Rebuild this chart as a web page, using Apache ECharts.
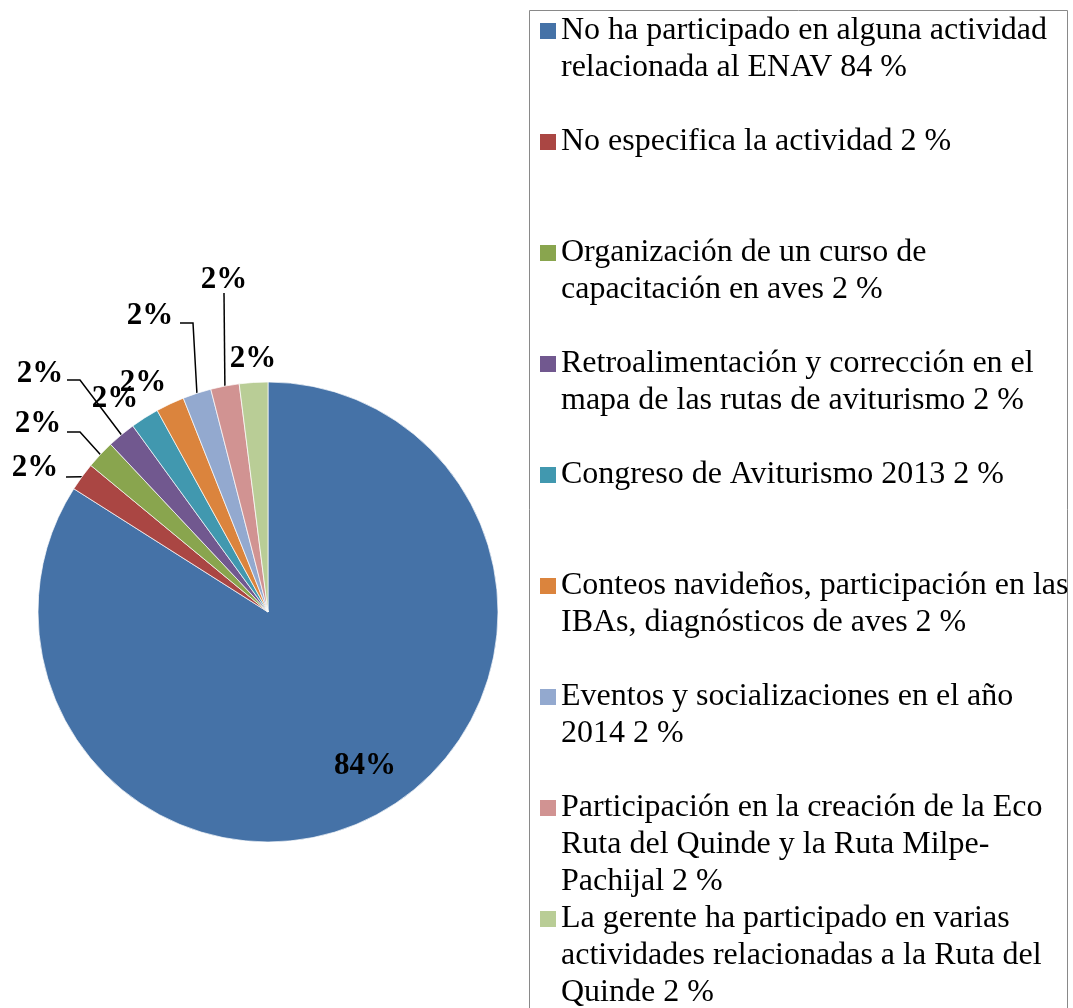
<!DOCTYPE html>
<html>
<head>
<meta charset="utf-8">
<script src="https://cdn.jsdelivr.net/npm/echarts@6/dist/echarts.min.js"></script>
<style>
  html, body { margin: 0; padding: 0; background: #fff; }
  #chart { width: 1073px; height: 1008px; }
</style>
</head>
<body>
<div id="chart"></div>
<script>
// categorias (saltos de linea como en la leyenda original)
var categories = [
  'No ha participado en alguna actividad\nrelacionada al ENAV',
  'No especifica la actividad',
  'Organización de un curso de\ncapacitación en aves',
  'Retroalimentación y corrección en el\nmapa de las rutas de aviturismo',
  'Congreso de Aviturismo 2013',
  'Conteos navideños, participación en las\nIBAs, diagnósticos de aves',
  'Eventos y socializaciones en el año\n2014',
  'Participación en la creación de la Eco\nRuta del Quinde y la Ruta Milpe-\nPachijal',
  'La gerente ha participado en varias\nactividades relacionadas a la Ruta del\nQuinde'
]
var values = [84, 2, 2, 2, 2, 2, 2, 2, 2]
var colors = ['#4572A7', '#AA4643', '#89A54E', '#71588F', '#4198AF', '#DB843D', '#93A9CF', '#D19392', '#B9CD96']

var chart = echarts.init(document.getElementById('chart'))
var serif = '"Liberation Serif", "Times New Roman", serif'
var LH = 37 // alto de linea de la leyenda

// posicion de las etiquetas (centro del texto) y codo de la linea guia
var labelSpots = [
  { x: 365, y: 766 },
  { x: 35, y: 468, elbow: [[66, 477]] },
  { x: 38, y: 424, elbow: [[80, 432], [67, 432]] },
  { x: 40, y: 374, elbow: [[80, 380], [67, 380]] },
  { x: 115, y: 399 },
  { x: 143, y: 383 },
  { x: 150, y: 316, elbow: [[193, 323], [180, 323]] },
  { x: 224, y: 280, elbow: [[224, 293]] },
  { x: 253, y: 359 }
]

// una leyenda por item; lineas vacias arriba para que el cuadro quede en la primera linea
var legends = categories.map(function (name, i) {
  var n = name.split('\n').length
  var center = 31 + i * 111
  return {
    orient: 'vertical',
    left: 540,
    top: center - (n - 1) * LH - LH / 2,
    padding: 0,
    itemGap: 0,
    itemWidth: 16,
    itemHeight: 16,
    icon: 'rect',
    itemStyle: { borderWidth: 0 },
    selectedMode: false,
    data: [name],
    formatter: function (nm) {
      var k = nm.split('\n').length - 1
      return new Array(k + 1).join('\n') + nm + ' ' + values[categories.indexOf(nm)] + ' %'
    },
    textStyle: {
      fontFamily: serif,
      fontSize: 32,
      lineHeight: LH,
      color: '#000'
    }
  }
})

var option = {
  animation: false,
  backgroundColor: '#fff',
  color: colors,
  legend: legends,
  graphic: [
    {
      type: 'rect',
      shape: { x: 529.5, y: 10.5, width: 538, height: 1020 },
      style: { fill: 'none', stroke: '#898989', lineWidth: 1 },
      silent: true
    }
  ],
  series: [
    {
      type: 'pie',
      center: [268, 612],
      radius: 230,
      startAngle: 90,
      clockwise: true,
      avoidLabelOverlap: false,
      itemStyle: { borderColor: '#fff', borderWidth: 0.7 },
      label: {
        show: true,
        position: 'outside',
        formatter: '{d}%',
        fontFamily: serif,
        fontWeight: 'bold',
        fontSize: 31,
        color: '#000'
      },
      labelLine: {
        show: true,
        length: 10,
        length2: 10,
        lineStyle: { color: '#000', width: 1.5 }
      },
      labelLayout: function (params) {
        var s = labelSpots[params.dataIndex]
        var out = { x: s.x, y: s.y, align: 'center', verticalAlign: 'middle' }
        if (s.elbow && params.labelLinePoints) {
          out.labelLinePoints = [params.labelLinePoints[0]].concat(s.elbow)
        }
        return out
      },
      data: categories.map(function (name, i) {
        return {
          name: name,
          value: values[i],
          labelLine: { show: !!labelSpots[i].elbow }
        }
      })
    }
  ]
}

chart.setOption(option)
</script>
</body>
</html>
